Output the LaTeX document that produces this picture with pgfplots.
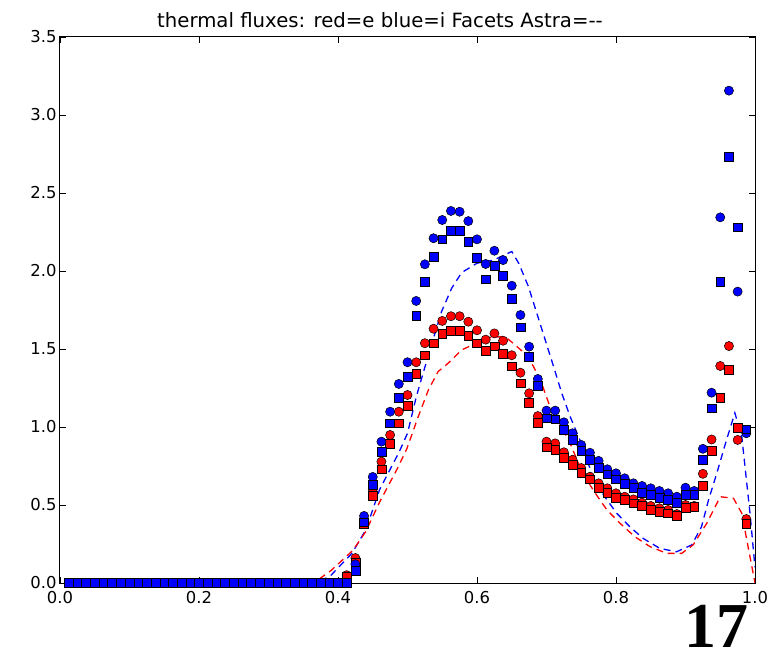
\documentclass[border=0pt]{standalone}
\usepackage{fontspec}
\setmainfont{DejaVu Sans}
\newfontfamily\bigserif{Liberation Serif}
\usepackage{pgfplots}
\pgfplotsset{compat=1.18}
\usepackage{pgfplotstable}

\pgfplotstableread{
x bc bs rc rs
0.0125 0 0 0 0
0.025 0 0 0 0
0.0375 0 0 0 0
0.05 0 0 0 0
0.0625 0 0 0 0
0.075 0 0 0 0
0.0875 0 0 0 0
0.1 0 0 0 0
0.1125 0 0 0 0
0.125 0 0 0 0
0.1375 0 0 0 0
0.15 0 0 0 0
0.1625 0 0 0 0
0.175 0 0 0 0
0.1875 0 0 0 0
0.2 0 0 0 0
0.2125 0 0 0 0
0.225 0 0 0 0
0.2375 0 0 0 0
0.25 0 0 0 0
0.2625 0 0 0 0
0.275 0 0 0 0
0.2875 0 0 0 0
0.3 0 0 0 0
0.3125 0 0 0 0
0.325 0 0 0 0
0.3375 0 0 0 0
0.35 0 0 0 0
0.3625 0 0 0 0
0.375 0 0 0 0
0.3875 0 0 0 0
0.4 0 0 0 0
0.4125 0 0 0.05 0.04
0.425 0.12 0.08 0.16 0.13
0.4375 0.43 0.39 0.41 0.38
0.45 0.68 0.63 0.60 0.56
0.4625 0.906 0.84 0.778 0.729
0.475 1.098 1.024 0.949 0.895
0.4875 1.276 1.185 1.098 1.024
0.5 1.415 1.32 1.205 1.135
0.5125 1.808 1.714 1.415 1.34
0.525 2.043 1.93 1.537 1.46
0.5375 2.21 2.09 1.63 1.537
0.55 2.327 2.203 1.68 1.596
0.5625 2.385 2.256 1.71 1.615
0.575 2.38 2.256 1.71 1.615
0.5875 2.32 2.19 1.675 1.583
0.6 2.203 2.085 1.62 1.537
0.6125 2.045 1.947 1.56 1.49
0.625 2.13 2.035 1.60 1.517
0.6375 2.07 1.97 1.553 1.47
0.65 1.906 1.82 1.46 1.39
0.6625 1.718 1.64 1.348 1.28
0.675 1.515 1.45 1.216 1.156
0.6875 1.308 1.263 1.07 1.028
0.7 1.105 1.056 0.906 0.87
0.7125 1.105 1.05 0.895 0.853
0.725 1.03 0.983 0.838 0.803
0.7375 0.96 0.917 0.79 0.756
0.75 0.885 0.848 0.737 0.708
0.7625 0.835 0.79 0.681 0.665
0.775 0.783 0.74 0.639 0.612
0.7875 0.729 0.697 0.607 0.579
0.8 0.703 0.665 0.575 0.549
0.8125 0.671 0.635 0.553 0.532
0.825 0.639 0.613 0.536 0.511
0.8375 0.622 0.579 0.515 0.494
0.85 0.607 0.564 0.494 0.472
0.8625 0.59 0.549 0.479 0.457
0.875 0.575 0.536 0.468 0.447
0.8875 0.553 0.515 0.442 0.43
0.9 0.611 0.568 0.5 0.483
0.9125 0.59 0.564 0.494 0.49
0.925 0.86 0.79 0.70 0.625
0.9375 1.22 1.12 0.92 0.85
0.95 2.344 1.93 1.391 1.19
0.9625 3.156 2.733 1.519 1.365
0.975 1.868 2.28 0.917 0.996
0.9875 0.96 0.985 0.41 0.38
}\fluxdata

\begin{document}
\begin{tikzpicture}
\path[use as bounding box] (-60bp,-65bp) rectangle (720bp,583bp);
\begin{axis}[
  at={(0,0)}, anchor=south west,
  scale only axis, width=695bp, height=546bp,
  xmin=0, xmax=1, ymin=0, ymax=3.5,
  xtick={0,0.2,0.4,0.6,0.8,1.0},
  ytick={0,0.5,1,1.5,2,2.5,3,3.5},
  tick pos=both, tick align=inside,
  major tick length=6bp,
  every tick/.style={black, line width=0.8bp},
  axis line style={black, line width=1bp},
  tick label style={font=\fontsize{16.4bp}{19bp}\selectfont, text=black},
  xticklabel style={yshift=-5bp},
  /pgf/number format/fixed,
  /pgf/number format/fixed zerofill,
  /pgf/number format/precision=1,
  /pgf/number format/assume math mode=true,
  clip=true,
]
\addplot[only marks, mark=*, mark size=4.6bp, mark options={fill=red, draw=black, line width=0.5bp}] table[x=x,y=rc]{\fluxdata};
\addplot[only marks, mark=square*, mark size=4.4bp, mark options={fill=red, draw=black, line width=0.5bp}] table[x=x,y=rs]{\fluxdata};
\addplot[only marks, mark=*, mark size=4.6bp, mark options={fill=blue, draw=black, line width=0.5bp}] table[x=x,y=bc]{\fluxdata};
\addplot[only marks, mark=square*, mark size=4.4bp, mark options={fill=blue, draw=black, line width=0.5bp}] table[x=x,y=bs]{\fluxdata};
\addplot[blue, line width=1.3bp, dash pattern=on 7bp off 5bp, no marks] coordinates {
(0.0125,0) (0.37,0) (0.39,0.05) (0.405,0.12) (0.42,0.19) (0.44,0.34) (0.46,0.6)
(0.488,0.84) (0.5,0.96) (0.513,1.2) (0.53,1.46) (0.549,1.74) (0.5636,1.89)
(0.578,1.99) (0.6,2.05) (0.624,2.07) (0.65,2.125) (0.66,2.05) (0.674,1.9)
(0.686,1.73) (0.698,1.56) (0.71,1.39) (0.722,1.216) (0.734,1.067) (0.748,0.917)
(0.767,0.68) (0.782,0.564) (0.801,0.447) (0.82,0.36) (0.839,0.286) (0.863,0.222)
(0.887,0.2) (0.909,0.244) (0.923,0.36) (0.933,0.53) (0.945,0.703) (0.959,0.917)
(0.971,1.09) (0.981,0.938) (0.9856,0.746) (0.9928,0.447) (1.0,0.1)
};
\addplot[red, line width=1.3bp, dash pattern=on 7bp off 5bp, no marks] coordinates {
(0.0125,0) (0.365,0) (0.39,0.08) (0.4216,0.21) (0.44,0.33) (0.46,0.52) (0.485,0.73)
(0.499,0.86) (0.5155,1.067) (0.53,1.237) (0.544,1.355) (0.5587,1.41) (0.578,1.494)
(0.6,1.54) (0.62,1.575) (0.64,1.58) (0.652,1.537) (0.669,1.47) (0.681,1.39)
(0.693,1.28) (0.705,1.13) (0.719,1.024) (0.734,0.895) (0.746,0.767) (0.758,0.66)
(0.772,0.564) (0.787,0.468) (0.806,0.382) (0.827,0.297) (0.849,0.233) (0.873,0.19)
(0.8945,0.19) (0.911,0.244) (0.9305,0.382) (0.95,0.553) (0.969,0.543) (0.981,0.447)
(0.99,0.233) (1.0,0.0)
};
\end{axis}
\node[anchor=base, font=\fontsize{19.7bp}{24bp}\selectfont, inner sep=0pt] at (320bp,555bp) {thermal fluxes: red=e blue=i Facets Astra=\mbox{-}\mbox{-}};
\node[anchor=base, font=\bigserif\bfseries\fontsize{64bp}{70bp}\selectfont, inner sep=0pt] at (656.5bp,-64bp) {17};
\end{tikzpicture}
\end{document}
